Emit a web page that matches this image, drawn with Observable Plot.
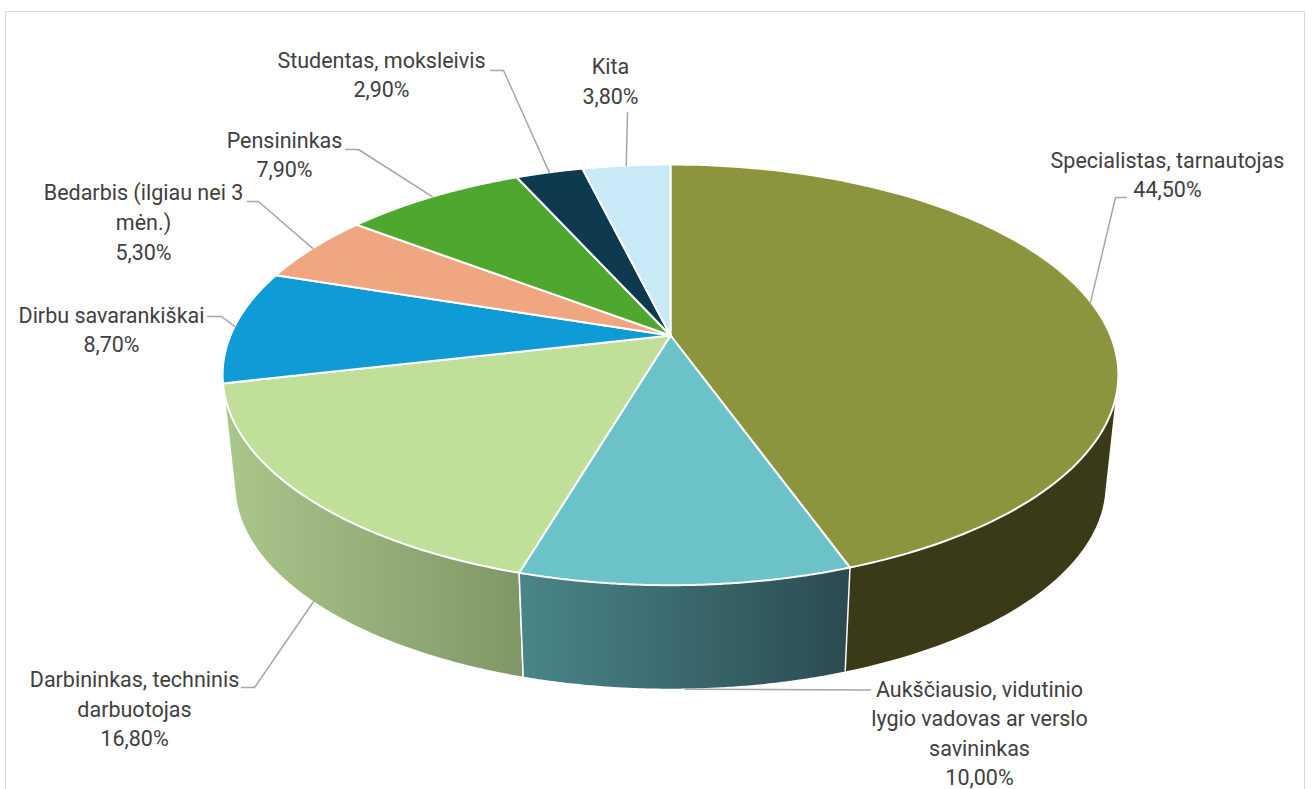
<!DOCTYPE html>
<html>
<head>
<meta charset="utf-8">
<script src="https://cdn.jsdelivr.net/npm/d3@7"></script>
<script src="https://cdn.jsdelivr.net/npm/@observablehq/plot@0.6"></script>
<style>
  html, body { margin: 0; padding: 0; background: #fff; overflow: hidden; }
  #chart { position: relative; width: 1313px; height: 789px; overflow: hidden; }
  #frame { position: absolute; left: 5px; top: 11px; width: 1300px; height: 800px; border: 1.5px solid #dadada; box-sizing: border-box; }
  #chart svg { position: absolute; left: 0; top: 0; }
</style>
</head>
<body>
<div id="chart"><div id="frame"></div></div>
<script>
// Data
const categories = [
  "Specialistas, tarnautojas",
  "Aukščiausio, vidutinio lygio vadovas ar verslo savininkas",
  "Darbininkas, techninis darbuotojas",
  "Dirbu savarankiškai",
  "Bedarbis (ilgiau nei 3 mėn.)",
  "Pensininkas",
  "Studentas, moksleivis",
  "Kita"
];
const shares = [44.5, 10.0, 16.8, 8.7, 5.3, 7.9, 2.9, 3.8];
const shareLabels = ["44,50%", "10,00%", "16,80%", "8,70%", "5,30%", "7,90%", "2,90%", "3,80%"];
const wrappedNames = [
  "Specialistas, tarnautojas",
  "Aukščiausio, vidutinio\nlygio vadovas ar verslo\nsavininkas",
  "Darbininkas, techninis\ndarbuotojas",
  "Dirbu savarankiškai",
  "Bedarbis (ilgiau nei 3\nmėn.)",
  "Pensininkas",
  "Studentas, moksleivis",
  "Kita"
];

// Styles
const faceColors = ["#8c943e", "#6bc2c8", "#c0df98", "#0f9bd5", "#f0a680", "#4ea72e", "#0d3a4f", "#c8eaf7"];
const sideFills = {0: "#3b3a18", 1: "url(#sideTeal)", 2: "url(#sideGreen)"};
const gradients = [
  {id: "sideTeal", from: "#4a8689", to: "#2a4b50"},
  {id: "sideGreen", from: "#abc78b", to: "#7f9766"}
];

// Projection of the tilted disc (perspective), in chart units
const view = {cx: 670, cy: 335, a: 440, b: 203, k: 0.187};
const base = {scale: 0.973, dy: 111};
function project(theta, disc) {
  const u = Math.sin(theta), v = -Math.cos(theta), w = 1 - view.k * v;
  const s = disc === "bottom" ? base.scale : 1, dy = disc === "bottom" ? base.dy : 0;
  return [view.cx + s * view.a * u / w, view.cy + dy + s * view.b * v / w];
}

// Slices through d3.pie
const arcs = d3.pie().sort(null).startAngle(0).endAngle(2 * Math.PI)(shares);
const arcAngles = (a) => d3.range(0, 121).map(i => a.startAngle + (a.endAngle - a.startAngle) * i / 120);

const faces = arcs.flatMap((a, i) => {
  const ring = arcAngles(a).map(t => project(t, "top"));
  return [[view.cx, view.cy], ...ring].map(([x, y]) => ({x, y, key: categories[i], fill: faceColors[i]}));
});

// Visible sides: hull of top and bottom rim, painted back to front
const sides = [0, 2, 1].flatMap(i => {
  const pts = arcAngles(arcs[i]).flatMap(t => [project(t, "top"), project(t, "bottom")]);
  return d3.polygonHull(pts).map(([x, y]) => ({x, y, key: categories[i], fill: sideFills[i]}));
});

// Label layout: block centre, and leader elbow + end. Leaders start at each slice's mid angle.
const labelLayout = [
  {x: 1167, y: 172.5, elbow: [1115, 197], end: [1126, 197], disc: "top"},
  {x: 979, y: 731, elbow: [870, 689.5], end: [870, 689.5], disc: "bottom"},
  {x: 134, y: 706.5, elbow: [254, 687], end: [241, 687], disc: "bottom"},
  {x: 111, y: 327.5, elbow: [221, 316], end: [207, 316], disc: "top"},
  {x: 143, y: 220, elbow: [258, 201], end: [247, 201], disc: "top"},
  {x: 284, y: 152.5, elbow: [358, 149], end: [345, 149], disc: "top"},
  {x: 381, y: 72.5, elbow: [503, 70], end: [490, 70], disc: "top"},
  {x: 610, y: 79, elbow: [627, 112], end: [627, 112], disc: "top"}
];
const labels = labelLayout.map((l, i) => ({x: l.x, y: l.y, text: wrappedNames[i] + "\n" + shareLabels[i]}));
const leaders = labelLayout.flatMap((l, i) => {
  const start = project((arcs[i].startAngle + arcs[i].endAngle) / 2, l.disc);
  return [start, l.elbow, l.end].map(([x, y]) => ({x, y, key: categories[i]}));
});

const defsMark = () => {
  const defs = d3.create("svg:defs");
  for (const g of gradients) {
    const lg = defs.append("linearGradient").attr("id", g.id);
    lg.append("stop").attr("offset", "0%").attr("stop-color", g.from);
    lg.append("stop").attr("offset", "100%").attr("stop-color", g.to);
  }
  return defs.node();
};

const plot = Plot.plot({
  width: 1313,
  height: 789,
  margin: 0,
  x: {domain: [0, 1313], range: [0, 1313], axis: null},
  y: {domain: [0, 789], range: [0, 789], axis: null},
  style: {background: "transparent"},
  marks: [
    defsMark,
    Plot.line(sides, {x: "x", y: "y", z: "key", fill: {value: "fill", scale: null}, stroke: "white", strokeWidth: 1.5, curve: "linear-closed"}),
    Plot.line(faces, {x: "x", y: "y", z: "key", fill: {value: "fill", scale: null}, stroke: "white", strokeWidth: 2, curve: "linear-closed"}),
    Plot.line(leaders, {x: "x", y: "y", z: "key", stroke: "#a6a6a6", strokeWidth: 1.5}),
    Plot.text(labels, {x: "x", y: "y", text: "text", fontFamily: "Roboto", fontSize: 21.5, lineHeight: 1.38, fill: "#404040", textAnchor: "middle", lineAnchor: "middle"})
  ]
});
document.getElementById("chart").appendChild(plot);
</script>
</body>
</html>
